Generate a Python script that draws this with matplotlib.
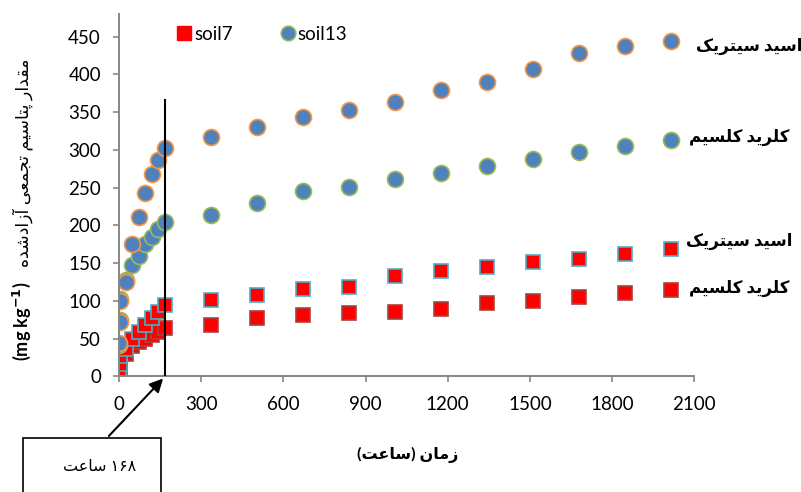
import matplotlib

matplotlib.use("Agg")
import matplotlib.pyplot as plt  # noqa: E402
from matplotlib.lines import Line2D  # noqa: E402
from matplotlib.patches import Rectangle  # noqa: E402

plt.rcParams["font.family"] = ["Lato", "DejaVu Sans"]

# sampling times (hours)
hours = [0.5, 2, 5, 24, 48, 72, 96, 120, 144, 168, 336, 504, 672, 840,
         1008, 1176, 1344, 1512, 1680, 1848, 2016]

# cumulative released potassium (mg/kg)
soil13_citric = [44, 72, 100, 125, 175, 211, 243, 268, 287, 302, 317, 331,
                 343, 353, 363, 380, 390, 407, 428, 437, 444]
soil13_cacl2 = [42, 75, 103, 128, 147, 160, 176, 185, 195, 205, 214, 230,
                245, 251, 261, 270, 279, 288, 297, 305, 313]
soil7_citric = [8, 17, 27, 36, 50, 59, 68, 77, 86, 95, 101, 108,
                116, 119, 133, 140, 145, 152, 155, 162, 169]
soil7_cacl2 = [5, 12, 20, 30, 40, 46, 50, 55, 59, 64, 68, 77,
               81, 84, 86, 90, 97, 100, 105, 111, 115]

x_ticks = [0, 300, 600, 900, 1200, 1500, 1800, 2100]
y_ticks = list(range(0, 451, 50))
marker_hour = 168
marker_top = 367

FORMS = {  # isolated, final, initial, medial
    "ا": ("\uFE8D", "\uFE8E", None, None),
    "آ": ("\uFE81", "\uFE82", None, None),
    "د": ("\uFEA9", "\uFEAA", None, None),
    "ر": ("\uFEAD", "\uFEAE", None, None),
    "ز": ("\uFEAF", "\uFEB0", None, None),
    "ت": ("\uFE95", "\uFE96", "\uFE97", "\uFE98"),
    "ج": ("\uFE9D", "\uFE9E", "\uFE9F", "\uFEA0"),
    "س": ("\uFEB1", "\uFEB2", "\uFEB3", "\uFEB4"),
    "ش": ("\uFEB5", "\uFEB6", "\uFEB7", "\uFEB8"),
    "ع": ("\uFEC9", "\uFECA", "\uFECB", "\uFECC"),
    "ق": ("\uFED5", "\uFED6", "\uFED7", "\uFED8"),
    "ل": ("\uFEDD", "\uFEDE", "\uFEDF", "\uFEE0"),
    "م": ("\uFEE1", "\uFEE2", "\uFEE3", "\uFEE4"),
    "ن": ("\uFEE5", "\uFEE6", "\uFEE7", "\uFEE8"),
    "ه": ("\uFEE9", "\uFEEA", "\uFEEB", "\uFEEC"),
    "ی": ("\uFBFC", "\uFBFD", "\uFBFE", "\uFBFF"),
    "ک": ("\uFB8E", "\uFB8F", "\uFB90", "\uFB91"),
    "پ": ("\uFB56", "\uFB57", "\uFB58", "\uFB59"),
}
MIRROR = {"(": ")", ")": "("}


def fa(text):
    # contextual shaping + right-to-left visual order
    out = []
    for i, ch in enumerate(text):
        if ch not in FORMS:
            out.append(ch)
            continue
        iso, fin, ini, med = FORMS[ch]
        prev = text[i - 1] if i > 0 else ""
        nxt = text[i + 1] if i + 1 < len(text) else ""
        join_prev = prev in FORMS and FORMS[prev][2] is not None
        join_next = ini is not None and nxt in FORMS
        if join_prev and join_next:
            out.append(med)
        elif join_prev:
            out.append(fin)
        elif join_next:
            out.append(ini)
        else:
            out.append(iso)
    vis = [MIRROR.get(c, c) for c in reversed(out)]
    # digits keep left-to-right order
    res, run = [], []
    for c in vis:
        if c.isdigit():
            run.append(c)
        else:
            res.extend(reversed(run))
            run = []
            res.append(c)
    res.extend(reversed(run))
    return "".join(res)


BLUE = "#4F81BD"
ORANGE = "#F79646"
GREEN = "#9BBB59"
RED = "#FF0000"
TEAL = "#4BACC6"
DARKRED = "#A8423F"
GRAY = "#868686"

fig = plt.figure(figsize=(8.01, 4.92), dpi=100)
ax = fig.add_axes([0.1486, 0.2348, 0.718, 0.7367])

ax.plot(hours, soil7_cacl2, ls="none", marker="s", ms=10.5, mfc=RED, mec=DARKRED, mew=1.2)
ax.plot(hours, soil7_citric, ls="none", marker="s", ms=10.5, mfc=RED, mec=TEAL, mew=1.2)
ax.plot(hours, soil13_cacl2, ls="none", marker="o", ms=11.5, mfc=BLUE, mec=GREEN, mew=1.2)
ax.plot(hours, soil13_citric, ls="none", marker="o", ms=11.5, mfc=BLUE, mec=ORANGE, mew=1.2)

ax.vlines(marker_hour, 0, marker_top, color="black", lw=1.5, zorder=5)

ax.set_xlim(0, 2100)
ax.set_ylim(0, 480)
ax.set_xticks(x_ticks)
ax.set_yticks(y_ticks)
for s in ["top", "right"]:
    ax.spines[s].set_visible(False)
for s in ["left", "bottom"]:
    ax.spines[s].set_color(GRAY)
    ax.spines[s].set_linewidth(1.4)
ax.tick_params(colors=GRAY, labelcolor="black", labelsize=13.5, length=4, width=1.2)
ax.tick_params(axis="x", pad=10)
ax.tick_params(axis="y", pad=9)

# series labels next to the last points
label_opts = dict(textcoords="offset points", ha="left", va="center",
                  fontsize=12, fontweight="bold", annotation_clip=False)
ax.annotate(fa("اسید سیتریک"), (hours[-1], soil13_citric[-1]), xytext=(18, -4), **label_opts)
ax.annotate(fa("کلرید کلسیم"), (hours[-1], soil13_cacl2[-1]), xytext=(13, 2), **label_opts)
ax.annotate(fa("اسید سیتریک"), (hours[-1], soil7_citric[-1]), xytext=(11, 5), **label_opts)
ax.annotate(fa("کلرید کلسیم"), (hours[-1], soil7_cacl2[-1]), xytext=(13, 1), **label_opts)

handles = [
    Line2D([], [], ls="none", marker="s", ms=10, mfc=RED, mec=RED),
    Line2D([], [], ls="none", marker="o", ms=10.5, mfc=BLUE, mec=GREEN, mew=1.2),
]
fig.legend(handles, ["soil7", "soil13"], ncol=2, frameon=False, fontsize=13.5,
           loc="center left", bbox_to_anchor=(158 / 801, 1 - 34 / 492),
           handletextpad=0.05, columnspacing=2.4, handlelength=1.0)

fig.text(408 / 801, 1 - 455 / 492, fa("زمان (ساعت)"), ha="center", va="center",
         fontsize=11.5, fontweight="bold")
fig.text(23 / 801, 1 - 163 / 492, fa("مقدار پتاسیم تجمعی آزادشده"), rotation=90,
         ha="center", va="center", fontsize=12.5)
fig.text(22 / 801, 1 - 321 / 492, r"(mg kg$^{\mathbf{-1}}$)", rotation=90,
         ha="center", va="center", fontsize=13, fontweight="bold")

# callout box for 168 hours
fig.patches.append(Rectangle((23 / 801, -0.05), 138 / 801, 0.05 + 54 / 492,
                             transform=fig.transFigure, fill=False, ec="black", lw=1.2))
fig.text(100 / 801, 1 - 467 / 492, fa("۱۶۸ ساعت"), ha="center", va="center", fontsize=11.5)
ax.annotate("", xy=(marker_hour, 0), xycoords="data",
            xytext=(107, 492 - 438), textcoords="figure pixels",
            arrowprops=dict(arrowstyle="-|>", color="black", lw=1.5, mutation_scale=20),
            annotation_clip=False)

fig.savefig("out.png", dpi=100)
